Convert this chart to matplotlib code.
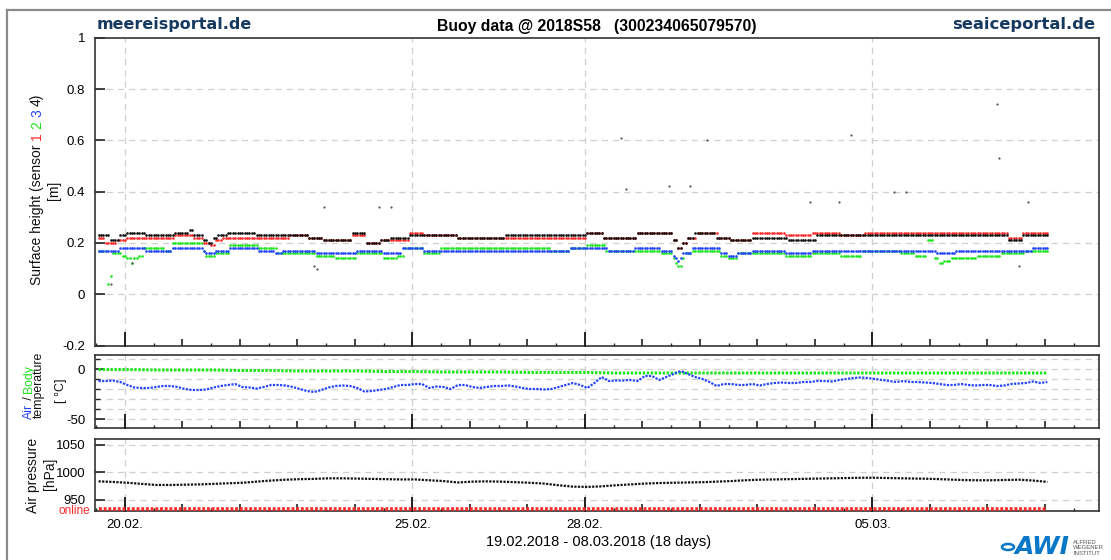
import matplotlib
matplotlib.use('Agg')
import matplotlib.pyplot as plt
import numpy as np
from matplotlib.lines import Line2D
from matplotlib.patches import Circle
from matplotlib.font_manager import FontProperties
from matplotlib.transforms import IdentityTransform
from matplotlib.ticker import FuncFormatter

W, H = 1111, 560
FONTS = ['Liberation Sans', 'DejaVu Sans']
plt.rcParams['font.family'] = FONTS

# hourly samples starting 19.02.2018 13:00, x axis in days since 19.02. 00:00
START_HOUR = 13

# surface height per sensor as runs of (height in cm, number of hourly samples)
height_s1 = [(22, 3), (20, 5), (21, 4), (22, 20), (23, 8), (22, 4), (20, 3), (19, 2), (21, 3),
             (22, 28), (23, 8), (22, 6), (21, 12), (23, 6), (20, 6), (21, 12), (24, 6), (23, 14),
             (22, 39), (22, 15), (24, 7), (22, 14), (24, 15), (21, 2), (18, 2), (20, 2), (22, 4),
             (24, 9), (22, 5), (21, 9), (24, 14), (23, 11), (24, 12), (23, 10), (24, 60), (22, 6),
             (24, 11)]
height_s2 = [(17, 4), (4, 1), (7, 1), (16, 4), (15, 2), (14, 2), (12, 1), (14, 2), (15, 2), (18, 9),
             (17, 3), (20, 13), (17, 1), (15, 4), (16, 6), (19, 12), (18, 8), (16, 16), (15, 8),
             (14, 9), (16, 11), (14, 6), (15, 3), (18, 8), (16, 7), (18, 46), (17, 8), (18, 7),
             (19, 8), (17, 12), (17, 11), (16, 5), (14, 1), (12, 1), (11, 2), (14, 1), (16, 3),
             (17, 12), (15, 3), (14, 4), (16, 20), (15, 11), (16, 12), (15, 9), (17, 16), (16, 6),
             (15, 5), (21, 3), (14, 2), (12, 2), (13, 3), (14, 11), (15, 10), (16, 10), (17, 10)]
height_s3 = [(17, 9), (18, 11), (17, 11), (18, 13), (17, 1), (16, 4), (17, 6), (18, 12), (17, 7),
             (16, 3), (17, 14), (16, 17), (17, 11), (16, 8), (18, 9), (17, 7), (17, 46), (17, 8),
             (18, 16), (17, 11), (18, 11), (17, 5), (15, 1), (14, 1), (13, 1), (14, 1), (16, 4),
             (18, 12), (16, 3), (15, 4), (16, 6), (17, 14), (16, 11), (17, 37), (17, 15), (16, 8),
             (17, 32), (18, 7)]
height_s4 = [(23, 5), (21, 4), (23, 3), (24, 8), (23, 12), (24, 6), (25, 2), (23, 4), (21, 2),
             (20, 2), (22, 2), (23, 4), (24, 12), (23, 22), (22, 6), (21, 12), (24, 6), (20, 6),
             (21, 4), (22, 8), (23, 20), (22, 20), (23, 34), (24, 7), (22, 14), (24, 15), (21, 2),
             (18, 2), (20, 2), (22, 3), (24, 9), (22, 6), (21, 9), (22, 15), (21, 12), (23, 80),
             (21, 6), (23, 11)]

# single spikes (hour index, height in m)
spike_hours = [5, 14, 90, 91, 94, 117, 122, 218, 220, 238, 247, 254, 297, 309, 314, 332, 337,
               375, 376, 384, 388]
spike_height = [0.04, 0.12, 0.11, 0.10, 0.34, 0.34, 0.34, 0.61, 0.41, 0.42, 0.42, 0.60, 0.36,
                0.36, 0.62, 0.40, 0.40, 0.74, 0.53, 0.11, 0.36]

# air temperature, 3-hourly [degC]
air_temp = [-12, -12, -11.5, -13, -16, -18.5, -19, -19, -18, -17,
            -17, -18, -20, -21, -21, -20.5, -18.5, -17, -16, -15,
            -18, -18.5, -19.5, -18, -16, -16, -16.5, -18, -20, -22,
            -23, -21, -18.5, -17, -16.5, -17, -19, -22.5, -22, -21,
            -20, -18, -16, -16, -15, -15, -19, -17.5, -18, -20,
            -16, -16, -18, -19, -18, -17, -17, -16.5, -17.5, -19,
            -20, -20, -20.5, -20, -18, -16, -14, -16, -19, -14,
            -8, -12, -11.5, -11.5, -11, -12, -7, -7, -11, -8,
            -5, -2, -5, -8, -10, -13, -17, -15, -15, -16,
            -16, -15, -16.5, -15, -14, -13.5, -14, -14, -13, -13,
            -12, -12, -12.5, -11, -10, -9, -8.5, -9, -10, -11,
            -12, -13, -12, -13, -13, -13.5, -14, -15, -16, -16,
            -15, -16, -16.5, -16, -16, -17, -16.5, -15, -14.5, -14,
            -12.5, -14, -13]

# body temperature, 12-hourly [degC]
body_temp = [-0.5, -0.5, -1, -1, -1, -1.5, -1.5, -2, -2, -2, -2.5, -2.5, -3, -3, -3, -3.5, -3.5,
             -3.5, -4, -4, -4, -4, -4, -4, -4, -4, -4, -4, -4, -4, -4, -4, -4, -4]

# air pressure, 6-hourly [hPa]
pressure = [983.5, 982.5, 981, 979, 977, 977, 977.5, 978, 979, 980,
            981, 983, 985, 986.5, 987.5, 988, 989, 989, 988.5, 988,
            987.5, 987, 987, 985.5, 984, 981.5, 983, 983.5, 983, 982,
            981, 979.5, 976.5, 974, 973.5, 974.5, 976.5, 978, 979.5, 980.5,
            981, 981.5, 982, 983, 984, 985.5, 986.5, 987, 987.5, 988,
            988.5, 989, 989.5, 990, 990, 989.5, 989, 988.5, 988, 987,
            986, 985.5, 985.5, 986, 986.5, 985, 982.5]

online_hours = [0, 396]
online_level = 933.5

date_ticks = [1, 6, 9, 14]
date_labels = ['20.02.', '25.02.', '28.02.', '05.03.']

C_RED, C_GREEN, C_BLUE, C_BLACK = '#ff2a2a', '#1ee61e', '#2343ff', '#111111'
NAVY = '#163a5f'


def hours_to_days(hours):
    return (START_HOUR + np.asarray(hours, dtype=float)) / 24.0


def expand(runs):
    vals = np.repeat([v for v, n in runs], [n for v, n in runs]) / 100.0
    return hours_to_days(np.arange(len(vals))), vals


def px_box(x0, y0, x1, y1):
    return [x0 / W, 1 - y1 / H, (x1 - x0) / W, (y1 - y0) / H]


fig = plt.figure(figsize=(W / 100, H / 100), dpi=100)
ax1 = fig.add_axes(px_box(95, 37.7, 1099, 345.5))
ax2 = fig.add_axes(px_box(95, 355, 1099, 428))
ax3 = fig.add_axes(px_box(95, 439, 1099, 511))


def setup(ax, ylim, yticks, grid_y, yminor=()):
    ax.set_xlim(0.48, 17.94)
    ax.set_ylim(*ylim)
    for s in ax.spines.values():
        s.set_color('#333333')
        s.set_linewidth(1.2)
    ax.set_xticks(np.arange(1, 18))
    ax.set_xticks(np.arange(0.5, 18, 1), minor=True)
    ax.tick_params(axis='x', which='major', direction='in', length=5, width=1.2,
                   color='#222222', pad=5.5, labelsize=9.5)
    ax.tick_params(axis='x', which='minor', direction='in', length=2.5, width=1.0,
                   color='#222222')
    ax.set_yticks(yticks)
    ax.set_yticks(list(yminor), minor=True)
    ax.tick_params(axis='y', which='major', direction='in', length=7, width=1.2,
                   color='#222222', pad=7, labelsize=9.5)
    ax.tick_params(axis='y', which='minor', direction='in', length=3.5, width=1.0,
                   color='#222222')
    ax.xaxis.set_major_formatter(FuncFormatter(lambda v, p: ''))
    for y in grid_y:
        ax.axhline(y, color='#cfcfcf', lw=0.9, ls=(0, (5, 4)), zorder=0)
    frac = 13 / ax.get_window_extent().height
    for d in date_ticks:
        ax.axvline(d, color='#cfcfcf', lw=0.9, ls=(0, (5, 4)), zorder=0)
        ax.plot([d, d], [0, frac], transform=ax.get_xaxis_transform(), color='#222222',
                lw=1.4, clip_on=False, zorder=5)


# surface height
setup(ax1, (-0.2, 1.0), np.arange(-0.2, 1.01, 0.2), np.arange(0, 1.0, 0.2))
ax1.set_yticklabels(['-0.2', '0', '0.2', '0.4', '0.6', '0.8', '1'])
for runs, col in [(height_s2, C_GREEN), (height_s3, C_BLUE), (height_s1, C_RED),
                  (height_s4, C_BLACK)]:
    t, v = expand(runs)
    ax1.plot(t, v, ls='none', marker='o', ms=1.9, mew=0, color=col)
ax1.plot(hours_to_days(spike_hours), spike_height, ls='none', marker='o', ms=1.6, mew=0,
         color='#555555')

# temperature
setup(ax2, (-59, 14), [-50, 0], np.arange(-50, 11, 10), yminor=[-40, -30, -20, -10, 10])
ax2.set_yticklabels(['-50', '0'])
ax2.plot(hours_to_days(np.arange(len(body_temp)) * 12), body_temp, color=C_GREEN, lw=2.2,
         ls=(0, (0.8, 0.5)))
ax2.plot(hours_to_days(np.arange(len(air_temp)) * 3), air_temp, color=C_BLUE, lw=1.6,
         ls=(0, (1, 0.6)))

# air pressure
setup(ax3, (930, 1060), [950, 1000, 1050], [950, 1000, 1050])
ax3.plot(hours_to_days(np.arange(len(pressure)) * 6), pressure, color=C_BLACK, lw=1.6,
         ls=(0, (1, 0.6)))
ax3.plot(hours_to_days(online_hours), [online_level] * len(online_hours), color=C_RED, lw=2.6,
         ls=(0, (0.8, 0.5)), clip_on=False, zorder=6)
ax3.xaxis.set_major_formatter(FuncFormatter(
    lambda v, p: date_labels[date_ticks.index(int(round(v)))] if int(round(v)) in date_ticks else ''))


def ftext(x, y, s, **kw):
    return fig.text(x / W, 1 - y / H, s, **kw)


renderer = fig.canvas.get_renderer()


def vlabel(x_base, yc, parts, size=10):
    # rotated label made of differently coloured pieces, centred on yc
    prop = FontProperties(family=FONTS, size=size)
    full = ''.join(s for s, c in parts)

    def width(s):
        return renderer.get_text_width_height_descent(s, prop, ismath=False)[0]

    total = width(full)
    y0 = (H - yc) - total / 2
    pos = 0
    for s, c in parts:
        end = pos + len(s)
        off = width(full[:end]) - width(s)
        if s.strip():
            fig.text(x_base, y0 + off, s, color=c, fontproperties=prop, rotation=90,
                     rotation_mode='anchor', ha='left', va='baseline',
                     transform=IdentityTransform())
        pos = end


vlabel(41, 189, [('Surface height (sensor ', C_BLACK), ('1', C_RED), (' ', C_BLACK),
                 ('2', C_GREEN), (' ', C_BLACK), ('3', C_BLUE), (' ', C_BLACK),
                 ('4)', C_BLACK)])
vlabel(58, 190, [('[m]', C_BLACK)])
vlabel(32, 392, [('Air', C_BLUE), (' / ', C_BLACK), ('Body', C_GREEN)], size=8.8)
vlabel(42, 385, [('temperature', C_BLACK)], size=8.8)
vlabel(64, 391, [('[ \u00b0C]', C_BLACK)], size=9)
vlabel(37, 475, [('Air pressure', C_BLACK)])
vlabel(54.5, 474, [('[hPa]', C_BLACK)])

ftext(90, 511.5, 'online', color=C_RED, fontsize=8.5, ha='right', va='center')

# header and footer
ftext(597, 27, 'Buoy data @ 2018S58   (300234065079570)', fontsize=11.3, fontweight='bold',
      ha='center', va='center')
ftext(97, 24, 'meereisportal.de', family='DejaVu Sans', fontsize=11.5, fontweight='bold',
      color=NAVY, ha='left', va='center')
ftext(1095, 24, 'seaiceportal.de', family='DejaVu Sans', fontsize=11.8, fontweight='bold',
      color=NAVY, ha='right', va='center')
ftext(599, 542, '19.02.2018 - 08.03.2018 (18 days)', fontsize=10.5, ha='center', va='center')

# frame around the whole plot
fig.add_artist(Line2D([7 / W, 1.0], [1 - 10 / H] * 2, color='#8a8a8a', lw=1.6))
fig.add_artist(Line2D([7 / W] * 2, [0, 1 - 10 / H], color='#8a8a8a', lw=1.6))

# institute logo
fig.add_artist(Circle((1008 / W, 1 - 547 / H), 6 / W, transform=fig.transFigure,
                      fill=False, ec='#0a78c8', lw=1.8))
ftext(1015, 547, 'AWI', fontsize=18, fontweight='bold', style='italic', color='#0a78c8',
      ha='left', va='center', family='DejaVu Sans')
ftext(1073, 540, 'ALFRED\nWEGENER\nINSTITUT', fontsize=4.3, color='#555555', ha='left',
      va='top', linespacing=1.1)

fig.savefig('out.png', dpi=100)
